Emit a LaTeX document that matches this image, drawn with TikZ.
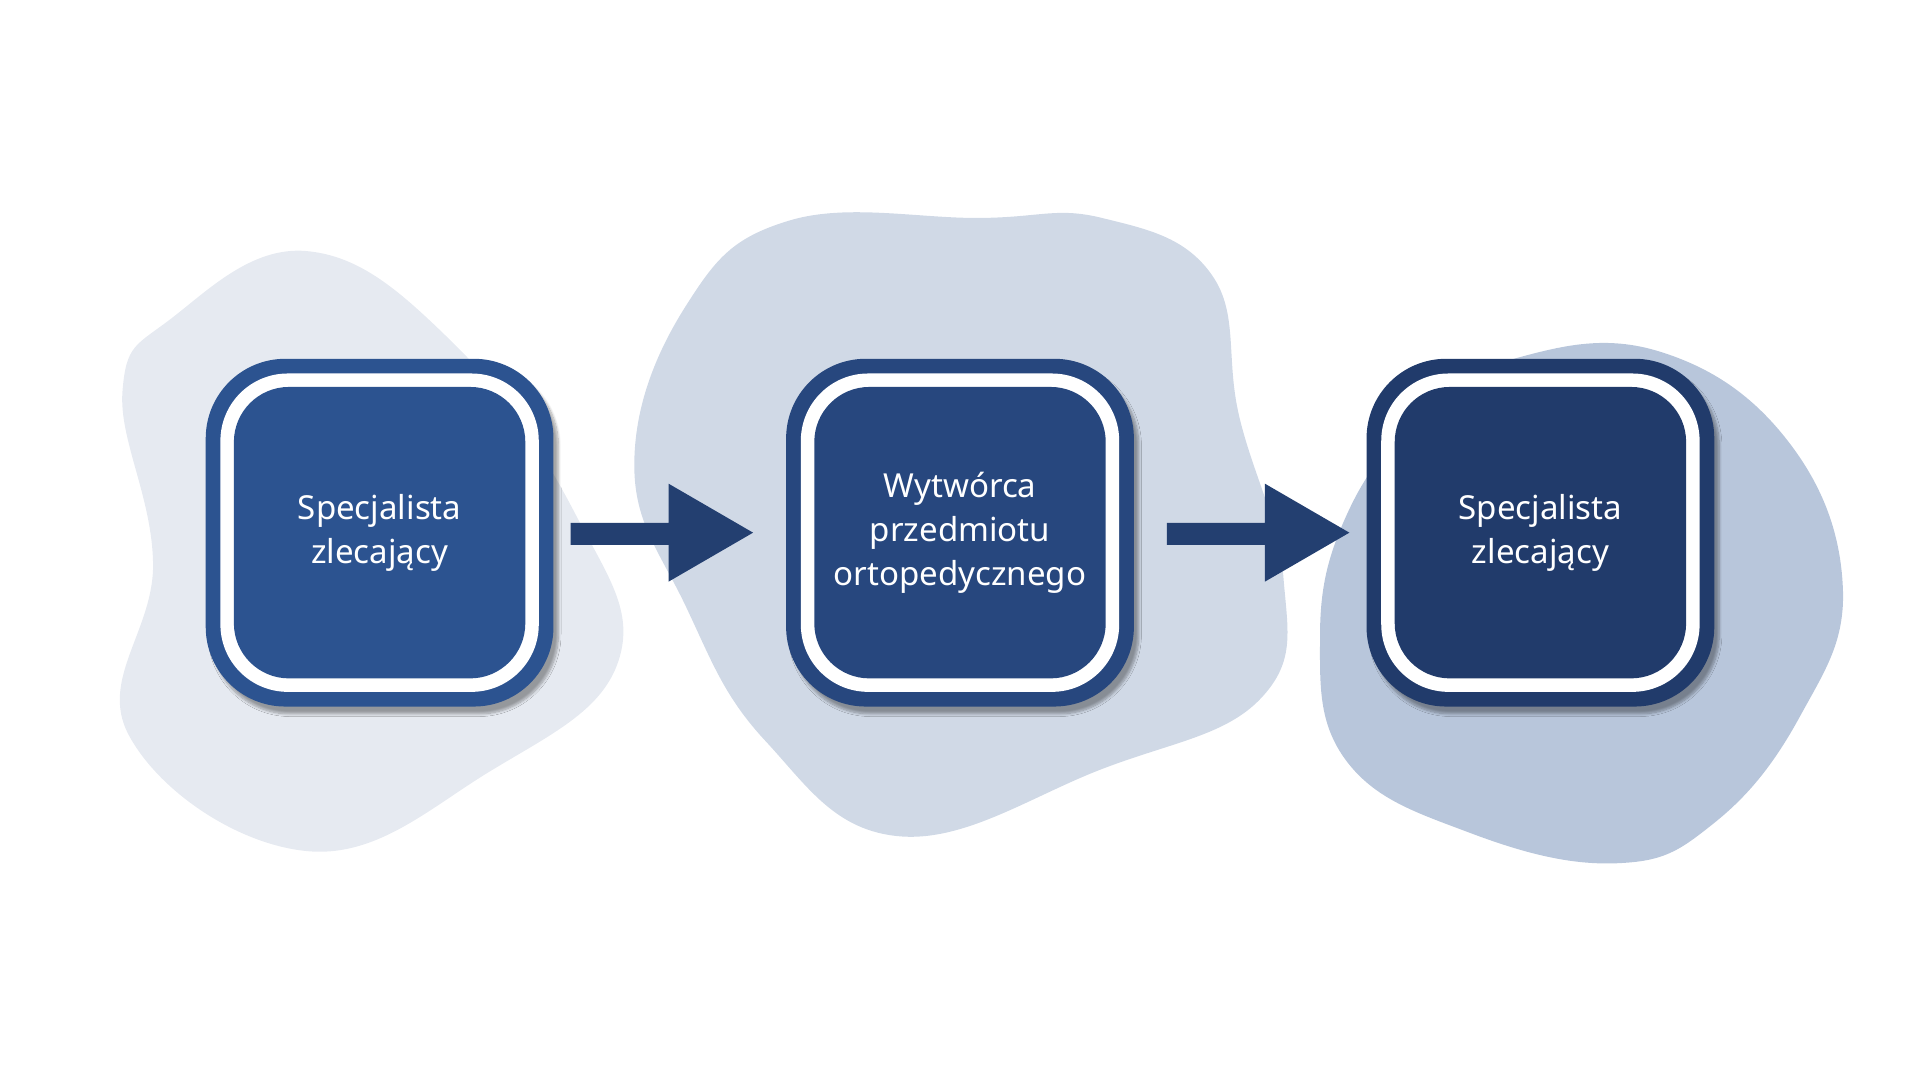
\documentclass[tikz,border=0pt]{standalone}
\usepackage{fontspec}
\setmainfont{Noto Sans}
\usetikzlibrary{shadows.blur}
\definecolor{blobA}{HTML}{E6EAF1}
\definecolor{blobB}{HTML}{D0D9E6}
\definecolor{blobC}{HTML}{B8C6DB}
\definecolor{cA}{HTML}{2C5390}
\definecolor{cB}{HTML}{27477E}
\definecolor{cC}{HTML}{213B6B}
\definecolor{arr}{HTML}{233F70}
\tikzset{
  outer/.style={rounded corners=65pt,minimum width=284pt,minimum height=284pt,blur shadow={shadow blur steps=8,shadow xshift=4pt,shadow yshift=-6pt,shadow opacity=35}},
  ring/.style={fill=white,rounded corners=55pt,minimum width=260pt,minimum height=260pt},
  inner/.style={rounded corners=45pt,minimum width=238pt,minimum height=238pt,text=white,align=center,font=\fontsize{27}{36}\selectfont},
}
\begin{document}
\begin{tikzpicture}[x=1pt,y=-1pt]
\useasboundingbox (0,0) rectangle (1568,871);
\fill[blobA] plot[smooth cycle,tension=0.7] coordinates{(100,320)(125,460)(105,600)(250,695)(400,630)(505,540)(470,420)(370,280)(250,205)(140,260)};
\fill[blobB] plot[smooth cycle,tension=0.7] coordinates{(518,380)(560,495)(625,605)(735,683)(900,628)(1030,570)(1048,470)(1012,340)(990,225)(900,178)(800,178)(645,180)(560,250)};
\fill[blobC] plot[smooth cycle,tension=0.7] coordinates{(1240,292)(1355,287)(1460,360)(1505,480)(1470,585)(1400,672)(1320,705)(1200,680)(1100,622)(1078,520)(1100,420)(1160,340)};
\foreach \n/\x/\c in {a/310/cA,b/784/cB,c/1258/cC}{
  \node[outer,fill=\c] (\n o) at (\x,435) {};
  \node[ring] (\n r) at (\x,435) {};
}
\node[inner,fill=cA] (a) at (310,435) {Specjalista\\zlecający};
\node[inner,fill=cB] (b) at (784,435) {Wytwórca\\przedmiotu\\ortopedycznego};
\node[inner,fill=cC] (c) at (1258,435) {Specjalista\\zlecający};
\coordinate (t1) at (615,435);
\coordinate (t2) at (1102,435);
\fill[arr] (466,427) -- (546,427) -- (546,395) -- (t1) -- (546,475) -- (546,445) -- (466,445) -- cycle;
\fill[arr] (953,427) -- (1033,427) -- (1033,395) -- (t2) -- (1033,475) -- (1033,445) -- (953,445) -- cycle;
\end{tikzpicture}
\end{document}
